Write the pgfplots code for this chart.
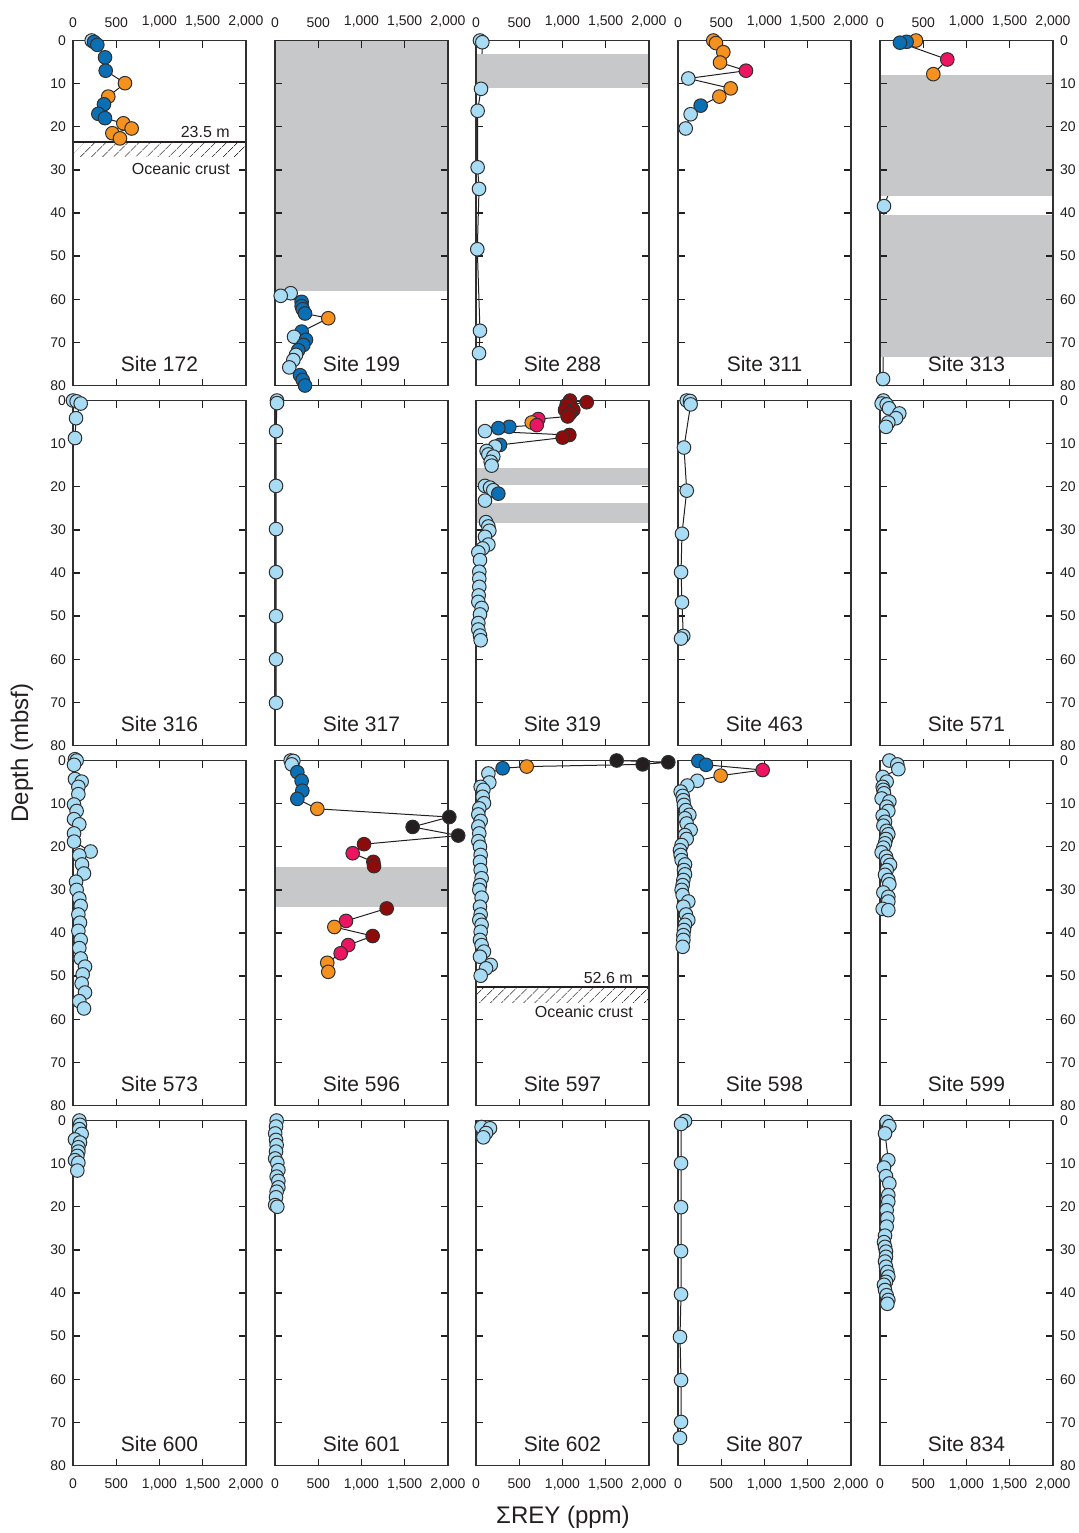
\documentclass[border=0pt]{standalone}
\usepackage{pgfplots}
\pgfplotsset{compat=1.18}
\usepackage{pgfplotstable}
\usepackage{fontspec}
\setmainfont{Liberation Sans}
\usetikzlibrary{patterns.meta}
\definecolor{lb}{HTML}{A8DCF4}
\definecolor{db}{HTML}{0A6FB5}
\definecolor{og}{HTML}{F5921F}
\definecolor{pk}{HTML}{EC1561}
\definecolor{dr}{HTML}{8E0B0B}
\definecolor{bk}{HTML}{231F20}
\definecolor{edge}{HTML}{303030}
\definecolor{band}{HTML}{C7C8CA}
\definecolor{txt}{HTML}{231F20}

\pgfplotstableread{
x y c
216 0.0 a
243 0.35 b
281 1.0 b
370 3.9 b
378 7.0 b
601 9.9 o
408 13.0 o
358 14.8 b
293 17.0 b
370 18.0 b
582 19.2 o
678 20.4 o
455 21.5 o
543 22.7 o
}\tA
\pgfplotstableread{
x y c
181 58.6 a
66 59.2 a
308 60.6 b
308 61.6 b
320 62.3 b
347 63.3 b
616 64.4 o
308 67.5 b
220 68.7 a
358 69.4 b
327 70.6 b
269 71.8 b
243 72.9 a
212 74.1 a
165 75.8 a
289 77.6 b
320 78.7 b
347 80.0 b
}\tB
\pgfplotstableread{
x y c
46 0.0 a
73 0.4 a
58 11.2 a
19 16.3 a
19 29.4 a
35 34.4 a
15 48.4 a
46 67.3 a
35 72.5 a
}\tC
\pgfplotstableread{
x y c
408 0.0 o
439 0.6 o
524 2.7 o
486 5.1 o
786 7.0 p
119 8.8 a
609 11.1 o
478 13.0 o
262 15.1 b
146 17.1 a
89 20.4 a
}\tD
\pgfplotstableread{
x y c
416 0.0 o
308 0.3 b
231 0.5 b
778 4.4 p
616 7.8 o
46 38.4 a
35 78.5 a
}\tE
\pgfplotstableread{
x y c
0 0.0 a
42 0.2 a
89 0.7 a
35 4.1 a
23 8.7 a
}\tF
\pgfplotstableread{
x y c
23 0.0 a
23 0.6 a
12 7.1 a
12 19.8 a
12 29.8 a
12 39.8 a
12 50.0 a
12 60.0 a
12 70.1 a
}\tG
\pgfplotstableread{
x y c
1087 0.0 r
1280 0.4 r
1048 1.0 r
1029 2.2 r
1125 2.2 r
1087 3.0 r
1060 3.7 r
720 4.3 p
644 5.1 o
702 5.7 p
385 6.1 b
258 6.4 b
104 7.1 a
1079 8.0 r
1002 8.6 r
277 10.3 b
220 10.7 a
123 11.7 a
143 12.5 a
200 13.0 a
170 14.2 a
181 15.1 a
104 19.8 a
162 20.2 a
200 20.8 a
258 21.6 b
104 23.2 a
116 28.2 a
143 29.2 a
154 30.2 a
104 31.6 a
143 33.4 a
77 34.3 a
27 35.2 a
46 37.0 a
38 39.7 a
38 41.3 a
38 43.2 a
31 45.2 a
27 46.7 a
65 48.1 a
46 49.6 a
27 51.6 a
27 53.1 a
46 54.5 a
54 55.6 a
}\tH
\pgfplotstableread{
x y c
101 0.0 a
139 0.1 a
146 0.9 a
69 10.9 a
101 20.9 a
46 30.9 a
35 39.8 a
46 46.8 a
61 54.6 a
35 55.2 a
}\tI
\pgfplotstableread{
x y c
39 0.0 a
19 0.7 a
77 0.9 a
104 1.8 a
223 3.0 a
185 4.1 a
96 5.1 a
69 6.1 a
}\tJ
\pgfplotstableread{
x y c
23 -0.3 a
42 0.0 a
12 1.0 a
23 4.3 a
100 4.9 a
62 6.1 a
62 7.8 a
12 10.2 a
42 11.7 a
12 13.6 a
73 14.8 a
12 16.9 a
12 18.8 a
204 21.1 a
73 22.0 a
104 24.1 a
127 26.2 a
35 28.1 a
42 30.0 a
73 32.0 a
89 33.7 a
62 35.7 a
81 37.6 a
62 39.5 a
89 41.6 a
73 43.5 a
89 45.9 a
139 47.8 a
112 49.6 a
100 51.7 a
139 53.8 a
73 55.8 a
127 57.5 a
}\tK
\pgfplotstableread{
x y c
181 0.0 a
212 0.1 a
193 0.9 a
258 2.7 b
308 4.7 b
316 7.0 b
258 8.9 b
489 11.2 o
2015 13.1 k
1591 15.4 k
2118 17.4 k
1029 19.4 r
898 21.5 p
1137 23.5 r
1145 24.5 r
1291 34.3 r
821 37.2 p
686 38.6 o
1129 40.7 r
847 42.8 p
759 44.7 p
604 46.9 o
616 49.0 o
}\tL
\pgfplotstableread{
x y c
1626 0.0 k
2223 0.4 k
1927 0.9 k
586 1.4 o
308 1.8 b
143 3.0 a
154 5.1 a
54 6.1 a
85 6.8 a
77 8.4 a
92 9.9 a
38 11.1 a
27 12.5 a
54 14.0 a
27 15.3 a
38 16.9 a
27 18.7 a
46 20.0 a
54 21.9 a
46 23.5 a
54 25.4 a
65 27.3 a
46 28.9 a
38 30.0 a
65 31.8 a
46 33.9 a
54 35.7 a
38 37.0 a
65 38.1 a
54 39.7 a
46 41.6 a
65 42.8 a
92 44.3 a
46 45.5 a
170 47.4 a
116 48.2 a
54 49.9 a
}\tM
\pgfplotstableread{
x y c
235 0.1 b
324 1.0 b
979 2.2 p
493 3.5 o
223 4.7 a
108 5.8 a
31 7.2 a
54 8.2 a
62 9.2 a
69 10.3 a
92 11.5 a
131 12.6 a
81 13.4 a
100 14.6 a
146 16.1 a
81 17.3 a
100 18.2 a
42 19.6 a
23 20.8 a
31 21.9 a
42 23.1 a
81 24.1 a
69 25.4 a
81 26.4 a
62 27.7 a
54 28.9 a
42 30.0 a
54 31.2 a
119 32.7 a
62 33.9 a
92 35.7 a
119 37.0 a
81 38.1 a
69 39.3 a
62 40.5 a
62 41.6 a
54 43.2 a
}\tN
\pgfplotstableread{
x y c
108 0.0 a
200 0.9 a
212 2.0 a
31 3.8 a
77 4.9 a
31 6.1 a
39 6.8 a
46 7.6 a
19 8.8 a
108 9.5 a
77 10.7 a
96 11.7 a
31 12.8 a
58 14.2 a
39 15.1 a
77 16.3 a
96 17.1 a
69 18.2 a
58 19.2 a
39 20.2 a
19 21.3 a
69 22.3 a
85 23.3 a
116 24.2 a
77 25.4 a
58 26.5 a
96 27.7 a
108 28.7 a
39 30.6 a
96 31.6 a
96 32.7 a
31 34.4 a
96 34.7 a
}\tO
\pgfplotstableread{
x y c
73 0.0 a
81 1.0 a
73 2.0 a
100 3.1 a
23 4.4 a
81 5.1 a
62 6.2 a
62 7.2 a
50 8.2 a
23 9.2 a
62 9.8 a
50 11.6 a
}\tP
\pgfplotstableread{
x y c
19 0.0 a
12 1.4 a
2 3.0 a
12 4.5 a
19 5.7 a
12 7.2 a
2 8.8 a
27 9.8 a
39 11.5 a
19 13.0 a
39 14.0 a
39 15.5 a
19 16.5 a
12 17.8 a
2 19.6 a
27 20.0 a
}\tQ
\pgfplotstableread{
x y c
65 1.5 a
162 1.8 a
116 2.9 a
85 3.9 a
}\tR
\pgfplotstableread{
x y c
81 0.1 a
35 0.8 a
35 9.9 a
35 20.1 a
35 30.3 a
35 40.3 a
23 50.2 a
35 60.2 a
35 69.9 a
23 73.6 a
}\tS
\pgfplotstableread{
x y c
77 0.3 a
108 1.3 a
58 3.0 a
96 9.2 a
46 10.9 a
69 12.9 a
108 14.6 a
96 17.3 a
96 18.8 a
77 20.8 a
85 22.7 a
77 24.6 a
58 26.7 a
46 28.2 a
58 29.3 a
69 30.4 a
69 31.6 a
58 32.7 a
69 33.9 a
85 35.1 a
96 36.2 a
69 37.4 a
46 38.1 a
58 39.3 a
77 40.5 a
96 41.6 a
85 42.5 a
}\tT

\pgfplotsset{
  panel/.style={
    scale only axis, width=86.5pt, height=172.5pt,
    anchor=north west,
    xmin=0, xmax=2000, ymin=0, ymax=80, y dir=reverse,
    clip=false,
    xtick={0,500,...,2000}, ytick={0,10,...,80},
    xticklabels={}, yticklabels={},
    tick align=inside, major tick length=3.5pt,
    xtick pos=both, ytick pos=both,
    axis line style={draw=edge, line width=0.6pt},
    tick style={draw=bk, line width=0.7pt},
    ticklabel style={font=\fontsize{7}{8}\selectfont, text=txt},
    xticklabel shift=3pt,
  },
  back/.style={panel, hide axis},
  toplab/.style={xticklabel pos=right, xtick pos=both,
    xticklabels={0,500,{1,000},{1,500},{2,000}}},
  botlab/.style={xticklabel pos=left, xtick pos=both,
    xticklabels={0,500,{1,000},{1,500},{2,000}}},
  leftlab/.style={yticklabel pos=left, ytick pos=both,
    yticklabels={0,10,20,30,40,50,60,70,80}},
  rightlab/.style={yticklabel pos=right, ytick pos=both,
    yticklabels={0,10,20,30,40,50,60,70,80}},
  ln/.style={no markers, draw=bk, line width=0.5pt},
  pts/.style={scatter, only marks, scatter src=explicit symbolic,
    mark size=3.4pt,
    scatter/classes={
      a={mark=*, fill=lb, draw=edge, line width=0.5pt},
      b={mark=*, fill=db, draw=edge, line width=0.5pt},
      o={mark=*, fill=og, draw=edge, line width=0.5pt},
      p={mark=*, fill=pk, draw=edge, line width=0.5pt},
      r={mark=*, fill=dr, draw=edge, line width=0.5pt},
      k={mark=*, fill=bk, draw=edge, line width=0.5pt}}},
  bnd/.style={draw=none, fill=band, no markers},
  hatch/.style={draw=none, no markers, pattern={Lines[angle=45,distance=4pt,line width=0.4pt]}, pattern color=bk},
}
\newcommand{\site}[1]{\node[font=\fontsize{10.5}{12}\selectfont, text=txt] at (axis cs:1000,75) {Site #1};}
\newcommand{\plk}[1]{\addplot[ln] table[x=x,y=y] {#1}; }
\newcommand{\pmk}[1]{\addplot[pts] table[x=x,y=y,meta=c] {#1};}
\newcommand{\bandat}[2]{\addplot[bnd] coordinates {(0,#1) (2000,#1) (2000,#2) (0,#2)};}

\begin{document}
\begin{tikzpicture}
\path[use as bounding box] (0pt,0pt) rectangle (539pt,-766.5pt);

% ---------- Row 1
\begin{axis}[back, at={(36.5pt,-20.25pt)}]
\plk{\tA}
\addplot[hatch] coordinates {(0,23.5) (2000,23.5) (2000,26.9) (0,26.9)};
\addplot[no markers, draw=bk, line width=1pt] coordinates {(0,23.5) (2000,23.5)};
\end{axis}
\begin{axis}[panel, toplab, leftlab, at={(36.5pt,-20.25pt)}]
\pmk{\tA}
\node[anchor=south east, inner sep=1pt, font=\fontsize{8}{9}\selectfont, text=txt] at (axis cs:1840,23.1) {23.5 m};
\node[anchor=east, inner sep=1pt, font=\fontsize{8}{9}\selectfont, text=txt] at (axis cs:1840,29.8) {Oceanic crust};
\site{172}
\end{axis}

\begin{axis}[back, at={(137.5pt,-20.25pt)}]
\plk{\tB}
\bandat{0}{58.0}
\end{axis}
\begin{axis}[panel, toplab, at={(137.5pt,-20.25pt)}]
\pmk{\tB}
\site{199}
\end{axis}

\begin{axis}[back, at={(238pt,-20.25pt)}]
\plk{\tC}
\bandat{3.1}{10.9}
\end{axis}
\begin{axis}[panel, toplab, at={(238pt,-20.25pt)}]
\pmk{\tC}
\site{288}
\end{axis}

\begin{axis}[back, at={(339pt,-20.25pt)}]
\plk{\tD}
\end{axis}
\begin{axis}[panel, toplab, at={(339pt,-20.25pt)}]
\pmk{\tD}
\site{311}
\end{axis}

\begin{axis}[back, at={(440pt,-20.25pt)}]
\plk{\tE}
\bandat{8.0}{36.1}
\bandat{40.4}{73.4}
\end{axis}
\begin{axis}[panel, toplab, rightlab, at={(440pt,-20.25pt)}]
\pmk{\tE}
\site{313}
\end{axis}

% ---------- Row 2
\begin{axis}[back, at={(36.5pt,-200.25pt)}]
\plk{\tF}
\end{axis}
\begin{axis}[panel, leftlab, at={(36.5pt,-200.25pt)}]
\pmk{\tF}
\site{316}
\end{axis}

\begin{axis}[back, at={(137.5pt,-200.25pt)}]
\plk{\tG}
\end{axis}
\begin{axis}[panel, at={(137.5pt,-200.25pt)}]
\pmk{\tG}
\site{317}
\end{axis}

\begin{axis}[back, at={(238pt,-200.25pt)}]
\plk{\tH}
\bandat{15.6}{19.5}
\bandat{23.8}{28.3}
\end{axis}
\begin{axis}[panel, at={(238pt,-200.25pt)}]
\pmk{\tH}
\site{319}
\end{axis}

\begin{axis}[back, at={(339pt,-200.25pt)}]
\plk{\tI}
\end{axis}
\begin{axis}[panel, at={(339pt,-200.25pt)}]
\pmk{\tI}
\site{463}
\end{axis}

\begin{axis}[back, at={(440pt,-200.25pt)}]
\plk{\tJ}
\end{axis}
\begin{axis}[panel, rightlab, at={(440pt,-200.25pt)}]
\pmk{\tJ}
\site{571}
\end{axis}

% ---------- Row 3
\begin{axis}[back, at={(36.5pt,-380.25pt)}]
\plk{\tK}
\end{axis}
\begin{axis}[panel, leftlab, at={(36.5pt,-380.25pt)}]
\pmk{\tK}
\site{573}
\end{axis}

\begin{axis}[back, at={(137.5pt,-380.25pt)}]
\plk{\tL}
\bandat{24.8}{33.9}
\end{axis}
\begin{axis}[panel, at={(137.5pt,-380.25pt)}]
\pmk{\tL}
\site{596}
\end{axis}

\begin{axis}[back, at={(238pt,-380.25pt)}]
\plk{\tM}
\addplot[hatch] coordinates {(0,52.6) (2000,52.6) (2000,56.2) (0,56.2)};
\addplot[no markers, draw=bk, line width=1pt] coordinates {(0,52.6) (2000,52.6)};
\end{axis}
\begin{axis}[panel, at={(238pt,-380.25pt)}]
\pmk{\tM}
\node[anchor=south east, inner sep=1pt, font=\fontsize{8}{9}\selectfont, text=txt] at (axis cs:1840,52.2) {52.6 m};
\node[anchor=east, inner sep=1pt, font=\fontsize{8}{9}\selectfont, text=txt] at (axis cs:1840,58.3) {Oceanic crust};
\site{597}
\end{axis}

\begin{axis}[back, at={(339pt,-380.25pt)}]
\plk{\tN}
\end{axis}
\begin{axis}[panel, at={(339pt,-380.25pt)}]
\pmk{\tN}
\site{598}
\end{axis}

\begin{axis}[back, at={(440pt,-380.25pt)}]
\plk{\tO}
\end{axis}
\begin{axis}[panel, rightlab, at={(440pt,-380.25pt)}]
\pmk{\tO}
\site{599}
\end{axis}

% ---------- Row 4
\begin{axis}[back, at={(36.5pt,-560.25pt)}]
\plk{\tP}
\end{axis}
\begin{axis}[panel, botlab, leftlab, at={(36.5pt,-560.25pt)}]
\pmk{\tP}
\site{600}
\end{axis}

\begin{axis}[back, at={(137.5pt,-560.25pt)}]
\plk{\tQ}
\end{axis}
\begin{axis}[panel, botlab, at={(137.5pt,-560.25pt)}]
\pmk{\tQ}
\site{601}
\end{axis}

\begin{axis}[back, at={(238pt,-560.25pt)}]
\plk{\tR}
\end{axis}
\begin{axis}[panel, botlab, at={(238pt,-560.25pt)}]
\pmk{\tR}
\site{602}
\end{axis}

\begin{axis}[back, at={(339pt,-560.25pt)}]
\plk{\tS}
\end{axis}
\begin{axis}[panel, botlab, at={(339pt,-560.25pt)}]
\pmk{\tS}
\site{807}
\end{axis}

\begin{axis}[back, at={(440pt,-560.25pt)}]
\plk{\tT}
\end{axis}
\begin{axis}[panel, botlab, rightlab, at={(440pt,-560.25pt)}]
\pmk{\tT}
\site{834}
\end{axis}

\node[rotate=90, font=\fontsize{12}{14}\selectfont, text=txt] at (11pt,-376.5pt) {Depth (mbsf)};
\node[font=\fontsize{12}{14}\selectfont, text=txt] at (281.5pt,-758.5pt) {ΣREY (ppm)};
\end{tikzpicture}
\end{document}
